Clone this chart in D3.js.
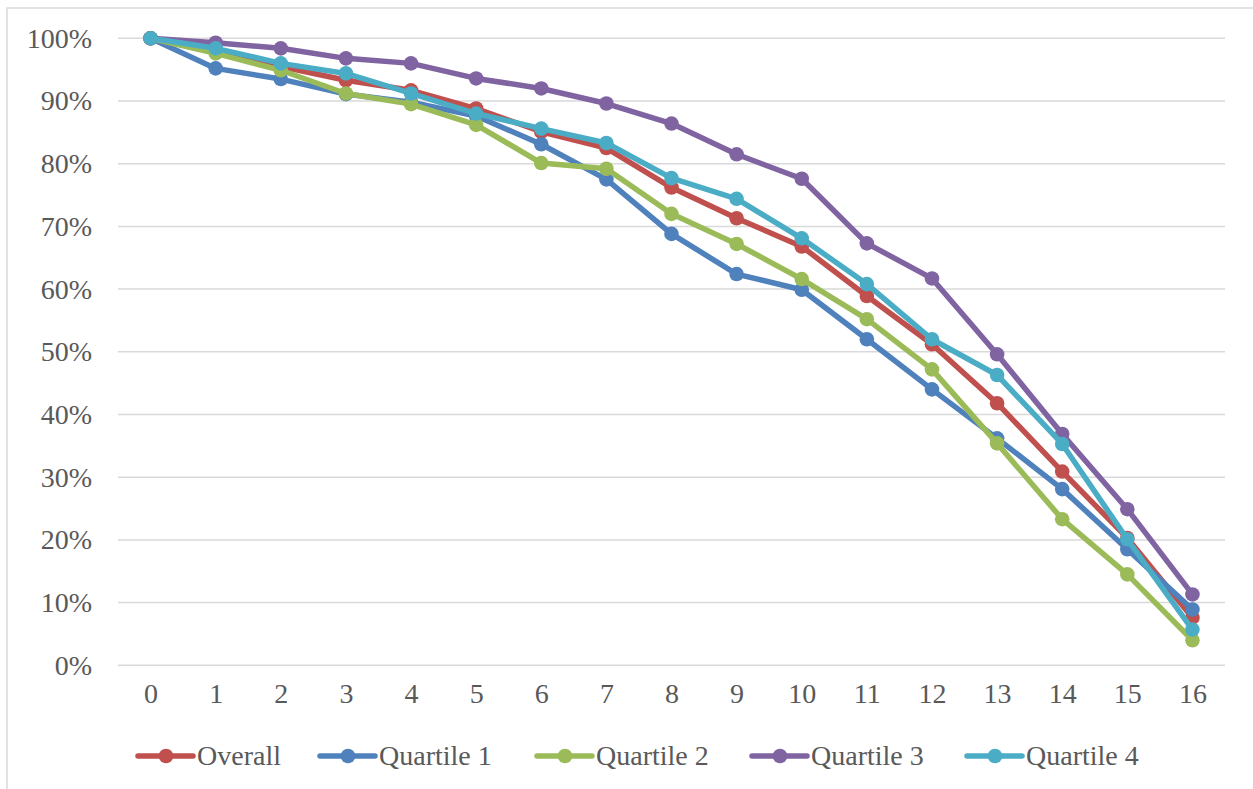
<!DOCTYPE html>
<html>
<head>
<meta charset="utf-8">
<script src="https://cdn.jsdelivr.net/npm/d3@7"></script>
<style>
  body { margin: 0; background: #fff; }
  svg { display: block; font-family: "Liberation Serif", "Times New Roman", serif; }
</style>
</head>
<body>
<svg id="chart" width="1253" height="789"></svg>
<script>
// x categories (0..16) and series values in %
const categories = ["0","1","2","3","4","5","6","7","8","9","10","11","12","13","14","15","16"];
const yTicks = [0, 10, 20, 30, 40, 50, 60, 70, 80, 90, 100];

const overall   = [100, 98.2, 95.5, 93.3, 91.7, 88.8, 85.1, 82.5, 76.2, 71.3, 66.8, 58.9, 51.2, 41.8, 30.9, 20.3, 7.6];
const quartile1 = [100, 95.2, 93.5, 91.1, 89.8, 87.6, 83.1, 77.5, 68.8, 62.4, 59.9, 52.0, 44.0, 36.2, 28.1, 18.5, 8.9];
const quartile2 = [100, 97.6, 94.9, 91.2, 89.5, 86.2, 80.1, 79.2, 72.0, 67.2, 61.6, 55.2, 47.2, 35.4, 23.3, 14.5, 4.0];
const quartile3 = [100, 99.3, 98.4, 96.8, 96.0, 93.6, 92.0, 89.6, 86.4, 81.5, 77.6, 67.3, 61.7, 49.6, 36.9, 24.9, 11.3];
const quartile4 = [100, 98.4, 96.0, 94.4, 91.2, 88.0, 85.6, 83.3, 77.7, 74.4, 68.1, 60.8, 52.0, 46.3, 35.3, 20.1, 5.7];

const seriesNames = ["Overall", "Quartile 1", "Quartile 2", "Quartile 3", "Quartile 4"];
const seriesValues = [overall, quartile1, quartile2, quartile3, quartile4];
const colors = ["#C0504D", "#4F81BD", "#9BBB59", "#8064A2", "#4BACC6"];

const svg = d3.select("#chart");

// chart border
svg.append("rect")
    .attr("x", 7).attr("y", 8)
    .attr("width", 1260).attr("height", 800)
    .attr("fill", "none")
    .attr("stroke", "#d9d9d9")
    .attr("stroke-width", 1.5);

const plot = { left: 118, right: 1225, top: 38.3, bottom: 665.3 };

const x = d3.scalePoint()
    .domain(categories)
    .range([plot.left, plot.right])
    .padding(0.5);

const y = d3.scaleLinear()
    .domain([0, 100])
    .range([plot.bottom, plot.top]);

// gridlines
svg.append("g")
    .selectAll("line")
    .data(yTicks)
    .enter()
    .append("line")
    .attr("x1", plot.left).attr("x2", plot.right)
    .attr("y1", d => y(d)).attr("y2", d => y(d))
    .attr("stroke", "#d9d9d9")
    .attr("stroke-width", 1.5);

// y axis labels
const yAxis = svg.append("g")
    .attr("transform", `translate(${plot.left}, 0)`)
    .call(d3.axisLeft(y).tickValues(yTicks).tickFormat(d => d + "%").tickSize(0).tickPadding(26));
yAxis.select(".domain").remove();
yAxis.selectAll("text")
    .style("font-family", "'Liberation Serif', 'Times New Roman', serif")
    .style("font-size", "28px")
    .attr("fill", "#595959");

// x axis labels
const xAxis = svg.append("g")
    .attr("transform", `translate(0, ${plot.bottom})`)
    .call(d3.axisBottom(x).tickSize(0).tickPadding(18));
xAxis.select(".domain").remove();
xAxis.selectAll("text")
    .style("font-family", "'Liberation Serif', 'Times New Roman', serif")
    .style("font-size", "28px")
    .attr("fill", "#595959");

const line = d3.line()
    .x((d, i) => x(categories[i]))
    .y(d => y(d));

seriesValues.forEach((vals, s) => {
    const g = svg.append("g");
    g.append("path")
        .datum(vals)
        .attr("d", line)
        .attr("fill", "none")
        .attr("stroke", colors[s])
        .attr("stroke-width", 5.5)
        .attr("stroke-linejoin", "round");
    g.selectAll("circle")
        .data(vals)
        .enter()
        .append("circle")
        .attr("cx", (d, i) => x(categories[i]))
        .attr("cy", d => y(d))
        .attr("r", 7.3)
        .attr("fill", colors[s]);
});

// legend
const legendX = [138, 320, 537, 752, 967];
const legendY = 756;
const legend = svg.append("g");
seriesNames.forEach((name, s) => {
    const g = legend.append("g").attr("transform", `translate(${legendX[s]}, ${legendY})`);
    g.append("line")
        .attr("x1", 0).attr("x2", 55)
        .attr("stroke", colors[s])
        .attr("stroke-width", 5.5)
        .attr("stroke-linecap", "round");
    g.append("circle")
        .attr("cx", 28).attr("r", 7.3)
        .attr("fill", colors[s]);
    g.append("text")
        .attr("x", 59).attr("y", 9)
        .text(name)
        .style("font-size", "28px")
        .attr("fill", "#595959");
});
</script>
</body>
</html>
